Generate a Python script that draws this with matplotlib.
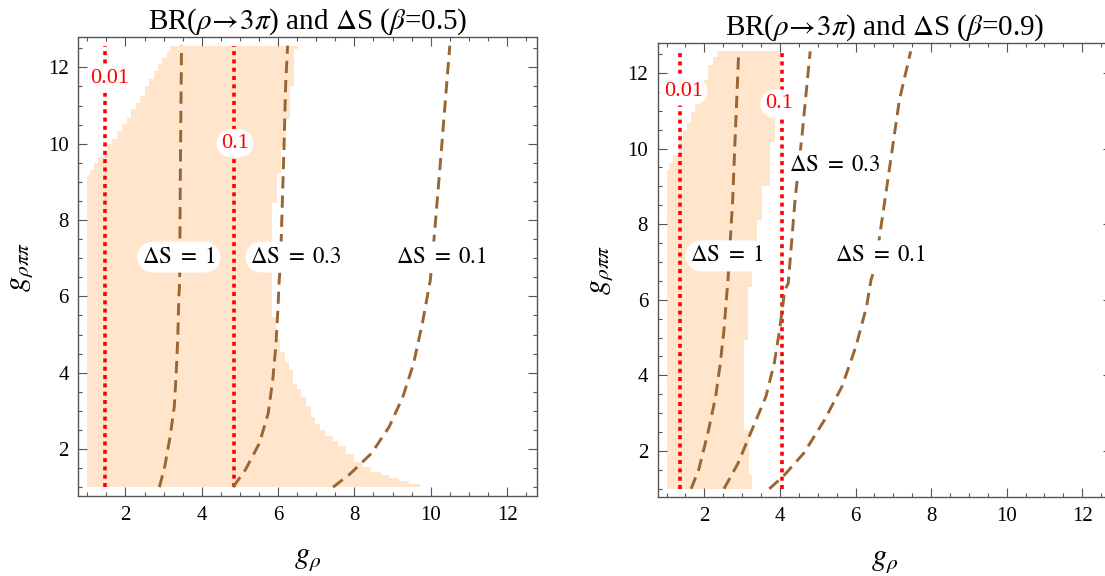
import matplotlib.pyplot as plt
from matplotlib.ticker import MultipleLocator

plt.rcParams['font.family'] = ['Liberation Serif', 'DejaVu Serif']
plt.rcParams['mathtext.fontset'] = 'stix'

# ---------------- data ----------------
# allowed region (filled), stored as a staircase: band edges in g_rhopipi
# and the g_rho value of the boundary inside each band
b05_right_y = [1.00, 1.08, 1.16, 1.24, 1.31, 1.39, 1.52, 1.66, 1.87, 2.09,
               2.22, 2.35, 2.49, 2.66, 2.84, 3.14, 3.36, 3.58, 3.71, 4.06,
               4.28, 4.54, 4.89, 5.46, 8.45, 9.24, 9.94, 10.64, 11.51, 12.47,
               12.57]
b05_right_x = [9.72, 9.43, 9.17, 8.91, 8.70, 8.43, 8.22, 8.00, 7.78, 7.57,
               7.43, 7.22, 7.09, 6.98, 6.87, 6.74, 6.61, 6.50, 6.39, 6.29,
               6.17, 6.04, 5.94, 5.83, 5.96, 6.07, 6.22, 6.30, 6.41, 6.52]
b05_left_y = [1.00, 9.19, 9.32, 9.49, 9.66, 9.82, 9.98, 10.12, 10.33, 10.51,
              10.68, 10.90, 11.07, 11.25, 11.51, 11.70, 11.90, 12.08, 12.25,
              12.43, 12.57]
b05_left_x = [1.00, 1.07, 1.17, 1.29, 1.41, 1.53, 1.64, 1.78, 1.90, 2.03,
              2.15, 2.28, 2.39, 2.51, 2.63, 2.74, 2.85, 2.97, 3.09, 3.16]

b09_right_y = [1.00, 1.36, 2.55, 4.93, 6.34, 6.78, 8.10, 9.00, 10.18, 10.97,
               12.57]
b09_right_x = [3.27, 3.17, 3.04, 3.16, 3.27, 3.39, 3.52, 3.75, 3.86, 4.00]
b09_left_y = [1.00, 9.43, 9.62, 9.82, 10.22, 10.50, 10.68, 10.97, 11.19,
              11.50, 11.81, 12.20, 12.42, 12.57]
b09_left_x = [1.00, 1.07, 1.16, 1.34, 1.43, 1.53, 1.64, 1.76, 1.88, 2.00,
              2.10, 2.22, 2.33]

# BR(rho -> 3pi) contours (vertical lines): levels and g_rho positions
br_levels = ['0.01', '0.1']
br_x_b05 = [1.47, 4.84]
br_x_b09 = [1.355, 4.055]
br_y = [1.0, 12.57]

# Delta S contours
ds_levels = ['1', '0.3', '0.1']
ds_b05 = {
    '1':   ([2.89, 3.03, 3.17, 3.28, 3.33, 3.37, 3.40, 3.42, 3.44, 3.47],
            [1.00, 1.54, 2.32, 3.11, 3.98, 4.86, 5.99, 6.35, 9.40, 12.57]),
    '0.3': ([4.82, 5.14, 5.51, 5.74, 5.86, 5.94, 5.99, 6.03, 6.06, 6.14, 6.20, 6.25],
            [1.00, 1.45, 2.15, 2.93, 3.81, 4.68, 5.56, 6.43, 6.78, 9.40, 11.59, 12.57]),
    '0.1': ([7.44, 7.90, 8.45, 8.91, 9.27, 9.55, 9.78, 9.99, 10.10, 10.28, 10.42, 10.50],
            [1.00, 1.36, 1.89, 2.58, 3.37, 4.24, 5.29, 6.43, 7.66, 9.84, 11.59, 12.57]),
}
ds_b09 = {
    '1':   ([1.65, 1.85, 2.10, 2.30, 2.42, 2.52, 2.59, 2.62, 2.75, 2.82, 2.91],
            [1.00, 1.50, 2.50, 3.44, 4.30, 5.20, 6.10, 6.43, 8.64, 10.40, 12.57]),
    '0.3': ([2.52, 2.89, 3.26, 3.63, 3.85, 3.99, 4.13, 4.22, 4.40, 4.59, 4.80],
            [1.00, 1.67, 2.56, 3.44, 4.32, 5.20, 6.26, 6.43, 8.64, 10.40, 12.57]),
    '0.1': ([3.72, 4.08, 4.63, 5.18, 5.64, 6.01, 6.29, 6.41, 6.52, 6.84, 7.16, 7.46],
            [1.00, 1.32, 1.94, 2.82, 3.70, 4.76, 5.81, 6.52, 6.87, 9.07, 11.28, 12.57]),
}

# contour label positions
br_lab_b05 = [(1.59, 11.71), (4.87, 10.01)]
br_lab_b09 = [(1.45, 11.52), (3.97, 11.18)]
ds_lab_b05 = [(3.40, 7.03), (6.47, 7.03), (10.28, 7.03)]
ds_lab_b09 = [(2.60, 7.16), (5.44, 9.54), (6.66, 7.16)]

panels = [
    (0.5, b05_left_y, b05_left_x, b05_right_y, b05_right_x, br_x_b05,
     ds_b05, br_lab_b05, ds_lab_b05),
    (0.9, b09_left_y, b09_left_x, b09_right_y, b09_right_x, br_x_b09,
     ds_b09, br_lab_b09, ds_lab_b09),
]

fill_col = '#FFE5CC'
ds_col = '#996633'
frame_col = '#555555'
lims = (0.769, 12.797)


def step_outline(ybreaks, xvals):
    """Vertices of a staircase boundary, walking upward."""
    xs, ys = [], []
    for i, xv in enumerate(xvals):
        xs += [xv, xv]
        ys += [ybreaks[i], ybreaks[i + 1]]
    return xs, ys


fig = plt.figure(figsize=(11.05, 5.76), dpi=100)
ax_pos = [[0.0710, 0.1389, 0.4154, 0.7969],
          [0.5953, 0.1363, 0.4114, 0.7894]]

box = dict(boxstyle='round,pad=0.22,rounding_size=0.8', fc='white', ec='none')

for pos, (beta, ly, lx, ry, rx, brx, ds, brlab, dslab) in zip(ax_pos, panels):
    ax = fig.add_axes(pos)

    # allowed region
    xr, yr = step_outline(ry, rx)
    xl, yl = step_outline(ly, lx)
    ax.fill(xr + xl[::-1], yr + yl[::-1], color=fill_col, lw=0, zorder=1)

    # BR contours
    for xv in brx:
        ax.plot([xv, xv], br_y, color='red', lw=2.6,
                linestyle=(0, (1.1, 1.2)), zorder=2)

    # Delta S contours
    for lev in ds_levels:
        xs, ys = ds[lev]
        ax.plot(xs, ys, color=ds_col, lw=2.1,
                linestyle=(0, (4.2, 2.4)), zorder=2)

    for lev, (tx, ty) in zip(br_levels, brlab):
        ax.text(tx, ty, lev, color='red', fontsize=16, ha='center',
                va='center', bbox=box, zorder=4)
    for lev, (tx, ty) in zip(ds_levels, dslab):
        ax.text(tx, ty, r'$\Delta\mathrm{S}\ =\ %s$' % lev, color='black',
                fontsize=16.5, ha='center', va='center', bbox=box, zorder=4)

    ax.set_xlim(lims)
    ax.set_ylim(lims)
    ax.xaxis.set_major_locator(MultipleLocator(2))
    ax.xaxis.set_minor_locator(MultipleLocator(0.5))
    ax.yaxis.set_major_locator(MultipleLocator(2))
    ax.yaxis.set_minor_locator(MultipleLocator(0.5))
    ax.tick_params(which='both', direction='in', top=True, right=True,
                   color=frame_col, width=0.8, labelsize=15)
    ax.tick_params(which='major', length=6.5, pad=7)
    ax.tick_params(which='minor', length=3)
    for sp in ax.spines.values():
        sp.set_color(frame_col)
        sp.set_linewidth(1.0)

    ax.set_xlabel(r'$g_{\rho}$', fontsize=22, labelpad=14)
    ax.set_ylabel(r'$g_{\rho\pi\pi}$', fontsize=22, labelpad=9)
    ax.set_title(r'BR($\rho\!\rightarrow\!3\pi$) and $\Delta$S ($\beta$=%s)'
                 % beta, fontsize=21, pad=2)

fig.savefig('out.png', dpi=100)
